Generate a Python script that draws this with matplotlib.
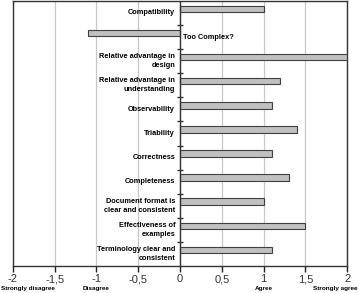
import numpy as np
import matplotlib
matplotlib.use("Agg")
import matplotlib.pyplot as plt
from matplotlib.transforms import blended_transform_factory

plt.rcParams['font.family'] = ['Liberation Sans', 'DejaVu Sans']

# data, top to bottom
categories = [
    "Compatibility",
    "Too Complex?",
    "Relative advantage in\ndesign",
    "Relative advantage in\nunderstanding",
    "Observability",
    "Triability",
    "Correctness",
    "Completeness",
    "Document format is\nclear and consistent",
    "Effectiveness of\nexamples",
    "Terminology clear and\nconsistent",
]
scores = [1.0, -1.1, 2.0, 1.2, 1.1, 1.4, 1.1, 1.3, 1.0, 1.5, 1.1]
ticks = [-2, -1.5, -1, -0.5, 0, 0.5, 1, 1.5, 2]
scale_labels = {-2: "Strongly disagree", -1: "Disagree", 1: "Agree", 2: "Strongly agree"}

fig = plt.figure(figsize=(3.59, 2.93), dpi=100)
ax = fig.add_axes([0.036, 0.092, 0.931, 0.905])

pos = np.arange(len(categories))
ax.barh(pos - 0.17, scores, height=0.27, color="#c0c0c0", edgecolor="#404040", linewidth=0.8, zorder=3)

ax.set_xlim(-2, 2)
ax.set_ylim(len(categories) - 0.5, -0.5)
ax.set_xticks(ticks)
ax.set_xticklabels([("%g" % t).replace(".", ",") for t in ticks], fontsize=8, color="#333333")
ax.set_yticks([])
ax.tick_params(axis="x", direction="out", length=4, width=1, color="#222222", pad=2)
ax.grid(axis="x", color="#c8c8c8", linewidth=0.9, zorder=0)
for s in ax.spines.values():
    s.set_color("#333333")
    s.set_linewidth(1.0)

# vertical axis at zero with small ticks between categories
ax.axvline(0, color="#333333", linewidth=1.0, zorder=4)
ax.plot(np.zeros(len(categories) - 1), pos[:-1] + 0.5, marker="_", markersize=4,
        color="#333333", linestyle="none", zorder=4)

for p, name, v in zip(pos, categories, scores):
    if v >= 0:
        ax.text(-0.06, p, name, ha="right", va="center", fontsize=5.3,
                fontweight="bold", linespacing=1.3, zorder=5)
    else:
        ax.text(0.03, p, name, ha="left", va="center", fontsize=5.3,
                fontweight="bold", zorder=5)

tr = blended_transform_factory(ax.transData, ax.transAxes)
for x, lab in scale_labels.items():
    ha = "center"
    if x == min(scale_labels):
        ha = "left"
        x = x - 0.14
    elif x == max(scale_labels):
        ha = "right"
        x = x + 0.12
    ax.text(x, -0.096, lab, transform=tr, ha=ha, va="bottom", fontsize=4.6,
            fontweight="bold", clip_on=False)

fig.savefig("out.png", dpi=100)
